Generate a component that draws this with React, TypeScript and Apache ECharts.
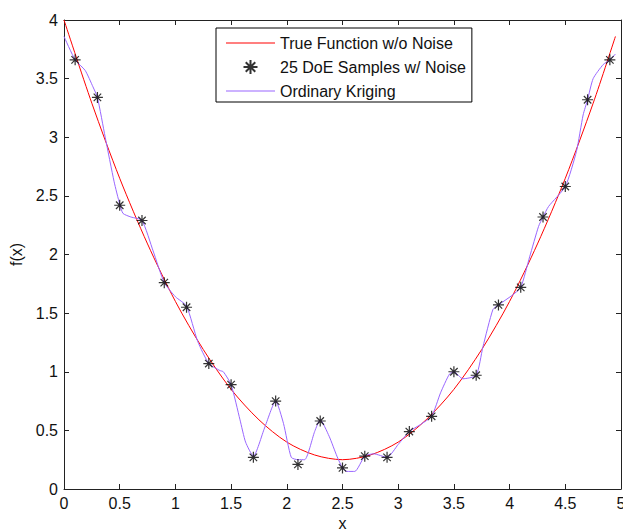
import React, { useEffect, useRef } from "react";
import * as echarts from "echarts";

// True function (without noise)
const trueX = [0, 0.25, 0.5, 0.75, 1.0, 1.25, 1.5, 1.75, 2.0, 2.25, 2.5, 2.75, 3.0, 3.25, 3.5, 3.75, 4.0, 4.25, 4.5, 4.75, 4.95];
const trueY = [4.0, 3.29, 2.65, 2.09, 1.6, 1.19, 0.85, 0.59, 0.4, 0.29, 0.25, 0.29, 0.4, 0.59, 0.85, 1.19, 1.6, 2.09, 2.65, 3.29, 3.86];

// 25 DoE samples with noise
const sampleX = [0.1, 0.3, 0.5, 0.7, 0.9, 1.1, 1.3, 1.5, 1.7, 1.9, 2.1, 2.3, 2.5, 2.7, 2.9, 3.1, 3.3, 3.5, 3.7, 3.9, 4.1, 4.3, 4.5, 4.7, 4.9];
const sampleY = [3.66, 3.34, 2.42, 2.29, 1.76, 1.55, 1.07, 0.89, 0.27, 0.75, 0.21, 0.58, 0.18, 0.28, 0.27, 0.49, 0.62, 1.0, 0.97, 1.57, 1.72, 2.32, 2.58, 3.32, 3.66];

// Ordinary Kriging prediction
const krigX = [0, 0.1, 0.19, 0.26, 0.3, 0.37, 0.45, 0.5, 0.53, 0.6, 0.7, 0.8, 0.9, 1.0, 1.1, 1.2, 1.3, 1.4, 1.43, 1.5, 1.58, 1.63, 1.7, 1.8, 1.9, 1.97, 2.04, 2.1, 2.16, 2.25, 2.3, 2.38, 2.45, 2.5, 2.54, 2.61, 2.7, 2.78, 2.9, 3.0, 3.1, 3.2, 3.3, 3.38, 3.46, 3.5, 3.58, 3.7, 3.76, 3.85, 3.9, 4.02, 4.1, 4.18, 4.26, 4.3, 4.35, 4.5, 4.6, 4.66, 4.7, 4.75, 4.84, 4.9, 4.95];
const krigY = [3.86, 3.66, 3.57, 3.43, 3.34, 3.0, 2.62, 2.43, 2.35, 2.32, 2.29, 2.03, 1.76, 1.64, 1.56, 1.26, 1.07, 1.01, 1.0, 0.89, 0.59, 0.4, 0.28, 0.52, 0.75, 0.56, 0.27, 0.25, 0.25, 0.49, 0.59, 0.45, 0.28, 0.18, 0.15, 0.15, 0.28, 0.3, 0.27, 0.38, 0.49, 0.55, 0.62, 0.82, 0.98, 1.0, 0.94, 0.97, 1.21, 1.53, 1.57, 1.65, 1.72, 1.98, 2.24, 2.32, 2.41, 2.58, 2.88, 3.19, 3.32, 3.5, 3.62, 3.66, 3.71];

const seriesNames = ["True Function w/o Noise", "25 DoE Samples w/ Noise", "Ordinary Kriging"];

const FONT = "'Liberation Sans', Arial, Helvetica, sans-serif";
const STAR = "path://M5,0L5,10M0,5L10,5M1.6,1.6L8.4,8.4M1.6,8.4L8.4,1.6";
// thin horizontal line icon, bounding box 49x14
const LINE_ICON = "path://M0,0L0.01,0L0.01,0.01ZM0,6.5L49,6.5L49,7.6L0,7.6ZM48.99,14L49,14L49,13.99Z";

export default function App() {
  const ref = useRef<HTMLDivElement>(null);
  useEffect(() => {
    document.body.style.margin = "0";
    const chart = echarts.init(ref.current!, undefined, { renderer: "svg" });
    const axisCommon = {
      type: "value" as const,
      axisLine: { show: true, onZero: false, lineStyle: { color: "#222", width: 1 } },
      axisTick: { show: true, inside: true, length: 5, lineStyle: { color: "#222" } },
      splitLine: { show: false },
    };
    chart.setOption({
      animation: false,
      backgroundColor: "#ffffff",
      grid: { left: 64, top: 20, width: 557, height: 469, containLabel: false, outerBoundsMode: "none" },
      legend: {
        left: 216,
        top: 28,
        orient: "vertical",
        backgroundColor: "#fff",
        borderColor: "#000",
        borderWidth: 1,
        padding: [7, 6, 3, 10],
        itemWidth: 49,
        itemHeight: 14,
        itemGap: 8,
        textStyle: { fontFamily: FONT, fontSize: 16, color: "#111" },
        data: [
          { name: seriesNames[0], icon: LINE_ICON },
          { name: seriesNames[1] },
          { name: seriesNames[2], icon: LINE_ICON },
        ],
      },
      xAxis: [
        {
          ...axisCommon,
          min: 0,
          max: 5,
          interval: 0.5,
          position: "bottom",
          name: "x",
          nameLocation: "middle",
          nameGap: 26,
          nameTextStyle: { fontFamily: FONT, fontSize: 16, color: "#111" },
          axisLabel: { fontFamily: FONT, fontSize: 16, color: "#111", margin: 6 },
        },
        {
          ...axisCommon,
          min: 0,
          max: 5,
          interval: 0.5,
          position: "top",
          axisLabel: { show: false },
        },
      ],
      yAxis: [
        {
          ...axisCommon,
          min: 0,
          max: 4,
          interval: 0.5,
          position: "left",
          name: "f(x)",
          nameLocation: "middle",
          nameGap: 33,
          nameTextStyle: { fontFamily: FONT, fontSize: 16, color: "#111" },
          axisLabel: { fontFamily: FONT, fontSize: 16, color: "#111", margin: 6 },
        },
        {
          ...axisCommon,
          min: 0,
          max: 4,
          interval: 0.5,
          position: "right",
          axisLabel: { show: false },
        },
      ],
      series: [
        {
          name: seriesNames[0],
          type: "line",
          xAxisIndex: 0,
          yAxisIndex: 0,
          data: trueX.map((x, i) => [x, trueY[i]]),
          smooth: 0.3,
          symbol: "none",
          lineStyle: { color: "#ff0000", width: 1 },
          itemStyle: { color: "#ff0000" },
          z: 2,
        },
        {
          name: seriesNames[1],
          type: "scatter",
          xAxisIndex: 0,
          yAxisIndex: 0,
          data: sampleX.map((x, i) => [x, sampleY[i]]),
          symbol: STAR,
          symbolSize: 11,
          itemStyle: { color: "#000", borderColor: "#000", borderWidth: 1.2 },
          z: 4,
        },
        {
          name: seriesNames[2],
          type: "line",
          xAxisIndex: 0,
          yAxisIndex: 0,
          data: krigX.map((x, i) => [x, krigY[i]]),
          smooth: 0.2,
          symbol: "none",
          lineStyle: { color: "#9966ff", width: 1 },
          itemStyle: { color: "#9966ff" },
          z: 3,
        },
      ],
    });
    return () => chart.dispose();
  }, []);
  return <div ref={ref} style={{ width: 623, height: 529 }} />;
}
